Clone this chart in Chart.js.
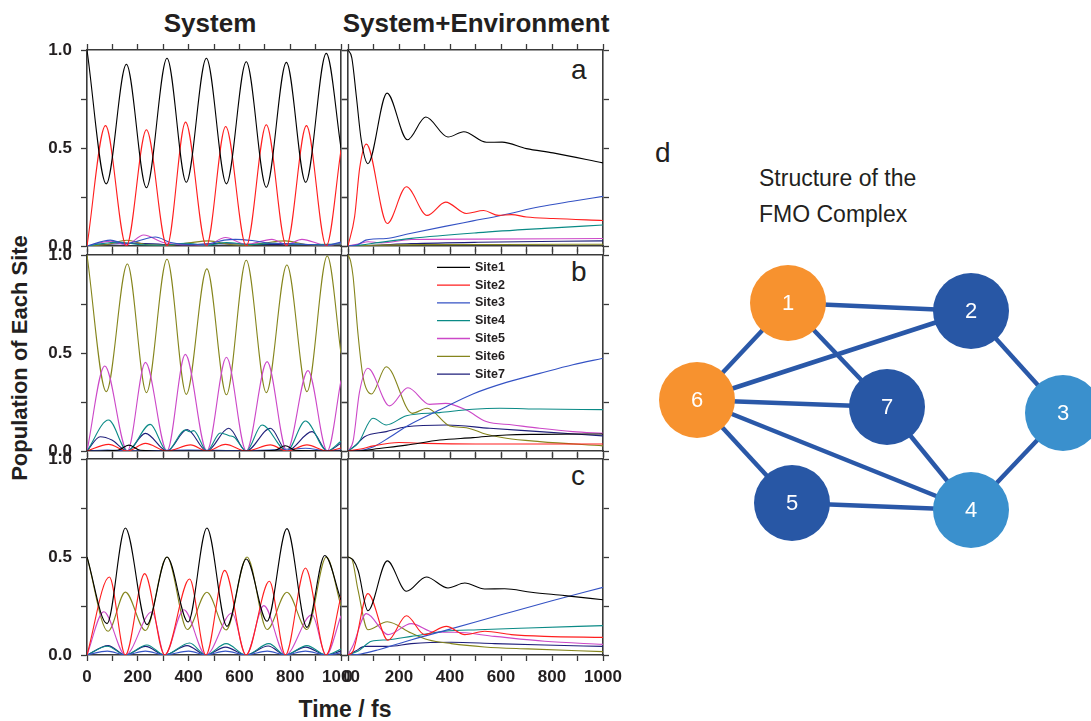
<!DOCTYPE html>
<html>
<head>
<meta charset="utf-8">
<script src="https://cdn.jsdelivr.net/npm/chart.js@4.4.1/dist/chart.umd.min.js"></script>
<style>
  html, body { margin: 0; padding: 0; background: #fff; }
  body { width: 1091px; height: 721px; position: relative; overflow: hidden;
         font-family: "Liberation Sans", Arial, sans-serif; color: #231f20; }
  canvas { position: absolute; }
  .lbl { position: absolute; white-space: nowrap; line-height: 1; }
  .head { font-weight: bold; font-size: 26px; width: 300px; text-align: center; }
  .tag { font-size: 28px; }
</style>
</head>
<body>
<div class="lbl head" style="left:60px;top:10px;">System</div>
<div class="lbl head" style="left:326px;top:10px;">System+Environment</div>
<div class="lbl" style="left:-130px;top:347px;width:300px;text-align:center;font-weight:bold;font-size:22px;transform:rotate(-90deg);">Population of Each Site</div>
<div class="lbl" style="left:195px;top:698px;width:300px;text-align:center;font-weight:bold;font-size:23px;">Time / fs</div>
<div class="lbl tag" style="left:571px;top:56px;">a</div>
<div class="lbl tag" style="left:571px;top:258px;">b</div>
<div class="lbl tag" style="left:571px;top:462px;">c</div>
<div class="lbl tag" style="left:655px;top:139px;">d</div>
<div class="lbl" style="left:759px;top:160px;font-size:23px;line-height:36px;">Structure of the<br>FMO Complex</div>

<canvas id="aSys"></canvas>
<canvas id="aEnv"></canvas>
<canvas id="bSys"></canvas>
<canvas id="bEnv"></canvas>
<canvas id="cSys"></canvas>
<canvas id="cEnv"></canvas>
<canvas id="fmo"></canvas>

<script>
// populations, [time in fs, population] per site

// (a) site 1 excited, system only
const sysA1 = [[0,1.0],[76,0.317],[155,0.927],[234,0.297],[315,0.958],[391,0.325],[470,0.958],[549,0.317],[627,0.94],[706,0.30],[785,0.937],[861,0.325],[942,0.983],[1000,0.50]];
const sysA2 = [[0,0],[73,0.614],[155,0],[234,0.593],[315,0],[388,0.632],[470,0],[546,0.61],[627,0],[706,0.619],[785,0],[864,0.614],[942,0],[1000,0.49]];
const sysA3 = [[0,0],[92,0.03],[150,0.012],[200,0.025],[269,0.046],[330,0.018],[400,0.008],[470,0.01],[540,0.03],[584,0.034],[650,0.028],[720,0.015],[800,0.012],[870,0.008],[942,0.004],[1000,0.02]];
const sysA4 = [[0,0],[60,0.012],[120,0.02],[200,0.008],[290,0.004],[390,0.014],[470,0.004],[550,0.018],[640,0.008],[740,0.014],[850,0.008],[1000,0.01]];
const sysA5 = [[0,0],[95,0.025],[155,0.006],[223,0.056],[300,0.018],[360,0.008],[420,0.006],[470,0.004],[545,0.043],[627,0.008],[728,0.034],[785,0.008],[846,0.034],[942,0.004],[1000,0.012]];
const sysA6 = [[0,0],[80,0.008],[157,0.029],[230,0.008],[315,0.004],[400,0.016],[479,0.026],[560,0.008],[627,0.004],[700,0.016],[781,0.026],[860,0.008],[942,0.004],[1000,0.01]];
const sysA7 = [[0,0],[100,0.01],[200,0.014],[300,0.008],[400,0.006],[500,0.012],[600,0.01],[700,0.008],[800,0.009],[900,0.006],[1000,0.008]];

// (a) site 1 excited, system + environment
const envA1 = [[0,1.0],[15,0.96],[33,0.76],[52,0.54],[78,0.42],[153,0.78],[233,0.542],[305,0.658],[392,0.556],[454,0.583],[543,0.529],[604,0.53],[700,0.497],[804,0.475],[1000,0.424]];
const envA2 = [[0,0],[26,0.15],[46,0.4],[72,0.52],[154,0.115],[229,0.302],[310,0.156],[383,0.224],[464,0.166],[532,0.181],[590,0.156],[641,0.16],[700,0.148],[804,0.14],[1000,0.13]];
const envA3 = [[0,0],[40,0.008],[70,0.03],[100,0.036],[150,0.038],[229,0.06],[380,0.1],[490,0.128],[604,0.157],[752,0.2],[880,0.228],[1000,0.253]];
const envA4 = [[0,0],[50,0.005],[118,0.017],[248,0.039],[510,0.068],[771,0.09],[1000,0.107]];
const envA5 = [[0,0],[40,0.01],[80,0.022],[130,0.016],[248,0.033],[500,0.035],[1000,0.038]];
const envA6 = [[0,0],[100,0.004],[300,0.007],[600,0.008],[1000,0.009]];
const envA7 = [[0,0],[100,0.004],[248,0.012],[510,0.019],[1000,0.026]];

// (b) site 6 excited, system only
const sysB1 = [[0,0],[120,0.004],[165,0.03],[210,0.004],[315,0],[472,0],[627,0],[740,0.004],[781,0.027],[820,0.004],[946,0],[1000,0]];
const sysB2 = [[0,0],[85,0.034],[159,0],[230,0.039],[315,0],[408,0.031],[472,0],[545,0.034],[627,0],[722,0.031],[787,0],[866,0.031],[946,0],[1000,0.015]];
const sysB3 = [[0,0],[80,0.005],[159,0],[400,0.005],[627,0.002],[800,0.01],[860,0.014],[946,0.002],[1000,0.005]];
const sysB4 = [[0,0],[85,0.158],[159,0],[249,0.136],[315,0],[387,0.108],[404,0.098],[420,0.104],[472,0],[525,0.092],[560,0.078],[580,0.07],[627,0],[689,0.133],[787,0],[860,0.153],[946,0],[1000,0.05]];
const sysB5 = [[0,0],[70,0.434],[159,0],[230,0.452],[315,0],[387,0.493],[472,0],[549,0.478],[627,0],[709,0.456],[787,0],[870,0.41],[946,0],[1000,0.36]];
const sysB6 = [[0,1.0],[76,0.303],[159,0.954],[234,0.298],[315,0.978],[391,0.289],[472,0.929],[549,0.287],[627,0.973],[706,0.298],[787,0.949],[866,0.303],[946,0.995],[1000,0.498]];
const sysB7 = [[0,0],[52,0.073],[98,0.056],[159,0],[230,0.09],[315,0],[394,0.11],[472,0],[558,0.116],[627,0],[722,0.116],[787,0],[886,0.099],[946,0],[1000,0.04]];

// (b) site 6 excited, system + environment
const envB1 = [[0,0],[60,0.002],[100,0.009],[229,0.03],[360,0.056],[490,0.068],[621,0.082],[752,0.085],[1000,0.087]];
const envB2 = [[0,0],[50,0.01],[100,0.026],[200,0.043],[300,0.039],[500,0.036],[1000,0.036]];
const envB3 = [[0,0],[50,0.003],[98,0.02],[163,0.07],[229,0.125],[360,0.21],[490,0.291],[621,0.35],[752,0.396],[882,0.44],[1000,0.473]];
const envB4 = [[0,0],[40,0.04],[98,0.167],[150,0.133],[229,0.18],[359,0.196],[490,0.213],[595,0.218],[752,0.214],[1000,0.211]];
const envB5 = [[0,0],[20,0.05],[45,0.3],[78,0.422],[163,0.23],[235,0.323],[320,0.238],[383,0.243],[464,0.209],[542,0.15],[647,0.133],[752,0.116],[882,0.099],[1000,0.09]];
const envB6 = [[0,1.0],[10,0.97],[20,0.89],[39,0.6],[59,0.378],[92,0.291],[150,0.43],[252,0.192],[310,0.218],[399,0.128],[464,0.119],[542,0.085],[621,0.065],[752,0.048],[1000,0.026]];
const envB7 = [[0,0],[30,0.03],[65,0.073],[150,0.099],[229,0.124],[386,0.133],[556,0.116],[752,0.099],[1000,0.077]];

// (c) sites 1 and 6 excited, system only
const sysC1 = [[0,0.5],[79,0.16],[151,0.648],[236,0.155],[315,0.5],[398,0.168],[472,0.648],[551,0.146],[627,0.49],[709,0.172],[787,0.645],[866,0.141],[936,0.508],[1000,0.28]];
const sysC2 = [[0,0],[88,0.398],[151,0],[227,0.415],[306,0],[404,0.388],[468,0],[542,0.432],[626,0],[718,0.376],[781,0],[860,0.444],[941,0],[1000,0.3]];
const sysC3 = [[0,0],[80,0.02],[151,0],[230,0.02],[306,0],[400,0.02],[468,0],[545,0.02],[626,0],[710,0.02],[781,0],[860,0.02],[941,0],[1000,0.01]];
const sysC4 = [[0,0],[80,0.045],[151,0],[236,0.051],[306,0],[404,0.061],[468,0],[548,0.058],[626,0],[716,0.058],[781,0],[866,0.048],[941,0],[1000,0.03]];
const sysC5 = [[0,0],[66,0.221],[151,0],[256,0.221],[306,0],[381,0.231],[468,0],[571,0.214],[626,0],[696,0.252],[781,0],[886,0.206],[941,0],[1000,0.2]];
const sysC6 = [[0,0.5],[83,0.121],[151,0.321],[230,0.125],[315,0.5],[395,0.13],[472,0.32],[548,0.128],[630,0.5],[709,0.13],[787,0.32],[866,0.13],[942,0.5],[1000,0.25]];
const sysC7 = [[0,0],[83,0.048],[151,0],[230,0.044],[306,0],[394,0.048],[468,0],[545,0.04],[626,0],[713,0.046],[781,0],[860,0.04],[941,0],[1000,0.02]];

// (c) sites 1 and 6 excited, system + environment
const envC1 = [[0,0.5],[20,0.485],[40,0.43],[78,0.226],[154,0.48],[229,0.325],[307,0.398],[392,0.342],[458,0.367],[536,0.337],[614,0.338],[719,0.32],[850,0.303],[1000,0.282]];
const envC2 = [[0,0],[20,0.02],[78,0.313],[157,0.075],[229,0.2],[301,0.104],[386,0.146],[458,0.104],[536,0.121],[640,0.104],[771,0.095],[1000,0.09]];
const envC3 = [[0,0],[50,0.005],[120,0.027],[250,0.078],[400,0.132],[600,0.205],[800,0.277],[1000,0.345]];
const envC4 = [[0,0],[40,0.02],[92,0.07],[157,0.078],[248,0.095],[379,0.121],[510,0.129],[706,0.138],[1000,0.15]];
const envC5 = [[0,0],[20,0.05],[72,0.211],[157,0.104],[248,0.16],[340,0.116],[418,0.116],[575,0.095],[771,0.07],[1000,0.054]];
const envC6 = [[0,0.5],[15,0.49],[39,0.333],[78,0.129],[154,0.17],[248,0.112],[314,0.078],[405,0.058],[536,0.041],[706,0.031],[1000,0.017]];
const envC7 = [[0,0],[30,0.02],[65,0.044],[157,0.044],[248,0.058],[405,0.065],[575,0.058],[771,0.051],[1000,0.044]];

const siteNames = ['Site1', 'Site2', 'Site3', 'Site4', 'Site5', 'Site6', 'Site7'];
const siteColors = ['#000000', '#ff1e1e', '#3452c4', '#0a8a86', '#cc48c8', '#85851c', '#1e1e7a'];

// FMO structure: node positions in diagram units and couplings between sites
const nodeIds = ['1', '2', '3', '4', '5', '6', '7'];
const nodeX = [13.8, 32.1, 41.3, 32.1, 14.2, 4.7, 23.7];
const nodeY = [25.7, 24.9, 14.7, 5.0, 5.7, 16.0, 15.3];
const couplings = [[1, 2], [1, 6], [1, 7], [2, 6], [2, 3], [3, 4], [6, 7], [6, 4], [6, 5], [7, 4], [5, 4]];
const nodeColors = ['#f7922f', '#2857a5', '#3a90cd', '#3a90cd', '#2857a5', '#f7922f', '#2857a5'];

const FONT = '"Liberation Sans", Arial, sans-serif';
const AXIS = '#3a3a3a';
const PLOT_H = 196;
const tickFont = { family: FONT, size: 17, weight: 'bold' };

const siteLegend = {
    id: 'siteLegend',
    afterDatasetsDraw(chart, args, opts) {
        if (!opts.show) return;
        const { ctx, chartArea } = chart;
        ctx.save();
        ctx.font = 'bold 12.5px ' + FONT;
        ctx.textBaseline = 'middle';
        chart.data.datasets.forEach((ds, i) => {
            const y = chartArea.top + 12.3 + i * 17.8;
            const x = chartArea.left + 89;
            ctx.strokeStyle = ds.borderColor;
            ctx.lineWidth = 1.3;
            ctx.beginPath();
            ctx.moveTo(x, y);
            ctx.lineTo(x + 33, y);
            ctx.stroke();
            ctx.fillStyle = '#231f20';
            ctx.fillText(ds.label, x + 38, y);
        });
        ctx.restore();
    }
};

function xAxis(position, showLabels, size) {
    return {
        type: 'linear', position: position, min: 0, max: 1000,
        afterFit: s => { s.height = size; },
        border: { display: true, color: AXIS, width: 1.6 },
        grid: { drawOnChartArea: false, drawTicks: true, tickLength: 6, tickColor: AXIS, tickWidth: 1.3 },
        ticks: {
            display: showLabels, stepSize: 100, padding: 6, maxRotation: 0, autoSkip: false,
            color: '#231f20', font: tickFont,
            callback: v => (v % 200 === 0 ? String(v) : '')
        }
    };
}

function yAxis(position, showLabels, size) {
    return {
        type: 'linear', position: position, min: 0, max: 1,
        afterFit: s => { s.width = size; },
        border: { display: true, color: AXIS, width: 1.6 },
        grid: { drawOnChartArea: false, drawTicks: true, tickLength: 6, tickColor: AXIS, tickWidth: 1.3 },
        ticks: {
            display: showLabels, stepSize: 0.25, padding: 9, autoSkip: false,
            color: '#231f20', font: tickFont,
            callback: v => ([0, 0.5, 1].includes(v) ? v.toFixed(1) : '')
        }
    };
}

function makePanel(id, box, series, opt) {
    const showX = !!opt.showX, showY = !!opt.showY;
    const L = showY ? 56 : 14;
    const R = 28;
    const T = 22;
    const B = showX ? 40 : 22;
    const canvas = document.getElementById(id);
    canvas.width = L + box.w + R;
    canvas.height = T + PLOT_H + B;
    canvas.style.left = (box.x - L) + 'px';
    canvas.style.top = (box.y - T) + 'px';

    return new Chart(canvas, {
        type: 'line',
        data: {
            datasets: series.map((pts, i) => ({
                label: siteNames[i],
                data: pts.map(p => ({ x: p[0], y: p[1] })),
                borderColor: siteColors[i],
                borderWidth: 1.1,
                pointRadius: 0,
                fill: false,
                cubicInterpolationMode: 'monotone',
                xAxisID: 'x',
                yAxisID: 'y'
            }))
        },
        options: {
            responsive: false,
            animation: false,
            events: [],
            layout: { padding: 0, autoPadding: false },
            scales: {
                x: xAxis('bottom', showX, B),
                xTop: xAxis('top', false, T),
                y: yAxis('left', showY, L),
                yRight: yAxis('right', false, R)
            },
            plugins: {
                legend: { display: false },
                tooltip: { enabled: false },
                siteLegend: { show: !!opt.legend }
            }
        },
        plugins: [siteLegend]
    });
}

const leftCol = 87, rightCol = 348;
makePanel('aSys', { x: leftCol, y: 50, w: 254 }, [sysA1, sysA2, sysA3, sysA4, sysA5, sysA6, sysA7], { showY: true });
makePanel('aEnv', { x: rightCol, y: 50, w: 255 }, [envA1, envA2, envA3, envA4, envA5, envA6, envA7], {});
makePanel('bSys', { x: leftCol, y: 255, w: 254 }, [sysB1, sysB2, sysB3, sysB4, sysB5, sysB6, sysB7], { showY: true });
makePanel('bEnv', { x: rightCol, y: 255, w: 255 }, [envB1, envB2, envB3, envB4, envB5, envB6, envB7], { legend: true });
makePanel('cSys', { x: leftCol, y: 459, w: 254 }, [sysC1, sysC2, sysC3, sysC4, sysC5, sysC6, sysC7], { showY: true, showX: true });
makePanel('cEnv', { x: rightCol, y: 459, w: 255 }, [envC1, envC2, envC3, envC4, envC5, envC6, envC7], { showX: true });

// (d) coupling network of the seven sites
const nodeLabels = {
    id: 'nodeLabels',
    afterDatasetsDraw(chart) {
        const { ctx } = chart;
        const meta = chart.getDatasetMeta(0);
        ctx.save();
        ctx.font = '22px ' + FONT;
        ctx.fillStyle = '#ffffff';
        ctx.textAlign = 'center';
        ctx.textBaseline = 'middle';
        meta.data.forEach((el, i) => ctx.fillText(nodeIds[i], el.x, el.y + 1));
        ctx.restore();
    }
};

const fmoCanvas = document.getElementById('fmo');
fmoCanvas.width = 451;
fmoCanvas.height = 330;
fmoCanvas.style.left = '640px';
fmoCanvas.style.top = '240px';

const nodePoint = n => ({ x: nodeX[n - 1], y: nodeY[n - 1] });

new Chart(fmoCanvas, {
    type: 'scatter',
    data: {
        datasets: [{
            data: nodeIds.map((_, i) => nodePoint(i + 1)),
            pointRadius: 38,
            pointBackgroundColor: nodeColors,
            pointBorderWidth: 0,
            order: 0,
            clip: false
        }].concat(couplings.map(([a, b]) => ({
            data: [nodePoint(a), nodePoint(b)],
            showLine: true,
            borderColor: '#2a58a8',
            borderWidth: 4.5,
            pointRadius: 0,
            order: 1,
            clip: false
        })))
    },
    options: {
        responsive: false,
        animation: false,
        events: [],
        layout: { padding: { left: 10, top: 10, right: 1, bottom: 10 }, autoPadding: false },
        scales: {
            x: { type: 'linear', min: 0, max: 44, display: false },
            y: { type: 'linear', min: 0, max: 31, display: false }
        },
        plugins: { legend: { display: false }, tooltip: { enabled: false } }
    },
    plugins: [nodeLabels]
});
</script>
</body>
</html>
